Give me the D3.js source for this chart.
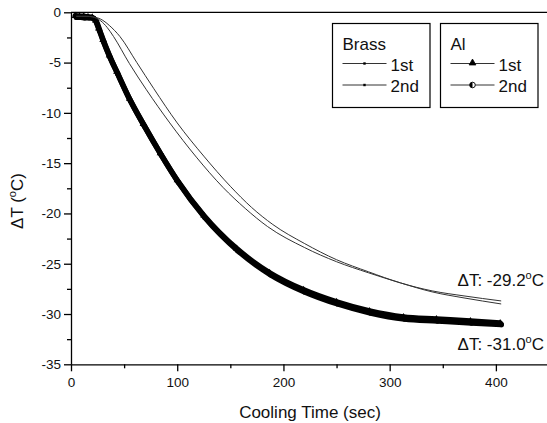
<!DOCTYPE html>
<html>
<head>
<meta charset="utf-8">
<script src="https://d3js.org/d3.v7.min.js"></script>
<style>
  html, body { margin: 0; padding: 0; background: #fff; }
  svg { display: block; font-family: "Liberation Sans", Arial, sans-serif; }
</style>
</head>
<body>
<svg id="chart" width="547" height="423"></svg>
<script>
// ---- Data ----
const brass1Time = [5, 10, 15, 20, 25, 30, 36, 46, 62, 78, 100, 125, 150, 170, 190, 220, 250, 280, 310, 340, 370, 405];
const brass1DT   = [-0.4, -0.4, -0.4, -0.45, -0.55, -0.8, -1.3, -2.4, -5.0, -7.6, -11.0, -14.3, -17.3, -19.4, -21.1, -23.0, -24.6, -25.8, -26.9, -27.7, -28.2, -28.7];

const brass2Time = [5, 10, 15, 20, 24, 28, 34, 40, 55, 71, 93, 118, 143, 164, 185, 220, 250, 280, 310, 340, 370, 405];
const brass2DT   = [-0.4, -0.4, -0.4, -0.45, -0.6, -0.85, -1.5, -2.4, -5.1, -7.7, -11.0, -14.4, -17.4, -19.5, -21.3, -23.4, -24.8, -25.9, -26.9, -27.8, -28.4, -29.0];

const al1Time = [4, 8, 12, 16, 20, 23, 26, 30, 36, 43, 55, 68, 84, 100, 125, 156, 187, 219, 250, 281, 313, 344, 376, 404];
const al1DT   = [-0.35, -0.4, -0.4, -0.45, -0.5, -0.8, -1.6, -2.75, -4.3, -5.9, -8.6, -11.1, -14.0, -16.7, -20.2, -23.5, -25.9, -27.6, -28.8, -29.7, -30.3, -30.5, -30.7, -30.9];

const al2Time = [5, 9, 13, 17, 21, 24, 27, 31, 37, 44, 56, 69, 85, 101, 126, 157, 188, 220, 251, 282, 314, 345, 377, 405];
const al2DT   = [-0.5, -0.5, -0.55, -0.55, -0.6, -0.95, -1.8, -2.95, -4.5, -6.1, -8.8, -11.3, -14.2, -16.9, -20.4, -23.7, -26.1, -27.8, -29.0, -29.9, -30.5, -30.7, -30.9, -31.05];

const xMajorTicks = [0, 100, 200, 300, 400];
const xMinorTicks = [50, 150, 250, 350];
const yMajorTicks = [-35, -30, -25, -20, -15, -10, -5, 0];
const yMinorTicks = [-32.5, -27.5, -22.5, -17.5, -12.5, -7.5, -2.5];

const xTitle = "Cooling Time (sec)";
const annotations = [
  { label: "ΔT: -29.2", value: -29.2 },
  { label: "ΔT: -31.0", value: -31.0 }
];

// ---- Layout ----
const W = 547, H = 423;
const mLeft = 71, mRight = 549, mTop = 12.3, mBottom = 364.3;
const font = '"Liberation Sans", Arial, sans-serif';

const svg = d3.select("#chart");
const x = d3.scaleLinear().domain([0, 450]).range([mLeft, mRight]);
const y = d3.scaleLinear().domain([-35, 0]).range([mBottom, mTop]);

svg.append("defs").append("clipPath").attr("id", "plotclip")
  .append("rect").attr("x", mLeft).attr("y", mTop - 4).attr("width", mRight - mLeft).attr("height", mBottom - mTop + 4);

const plot = svg.append("g").attr("clip-path", "url(#plotclip)");

const zip = (t, v) => t.map((d, i) => ({ t: d, v: v[i] }));
const line = d3.line().x(d => x(d.t)).y(d => y(d.v)).curve(d3.curveMonotoneX);

// Al series: dense markers merge into a thick black band
[zip(al1Time, al1DT), zip(al2Time, al2DT)].forEach(data => {
  plot.append("path").datum(data).attr("d", line)
    .attr("fill", "none").attr("stroke", "#000").attr("stroke-width", 5.5)
    .attr("stroke-linejoin", "round").attr("stroke-linecap", "round");
});
// Al markers
const tri = d3.symbol().type(d3.symbolTriangle).size(22);
plot.selectAll(".al1m").data(zip(al1Time, al1DT)).join("path")
  .attr("d", tri).attr("transform", d => `translate(${x(d.t)},${y(d.v)})`)
  .attr("fill", "#000");
plot.selectAll(".al2m").data(zip(al2Time, al2DT)).join("circle")
  .attr("cx", d => x(d.t)).attr("cy", d => y(d.v)).attr("r", 2.6)
  .attr("fill", "#000");

// Brass series: thin lines
[zip(brass1Time, brass1DT), zip(brass2Time, brass2DT)].forEach(data => {
  plot.append("path").datum(data).attr("d", line)
    .attr("fill", "none").attr("stroke", "#333").attr("stroke-width", 1);
});

// ---- Axes ----
const axStyle = g => {
  g.selectAll(".domain").attr("stroke", "#000").attr("stroke-width", 1.3);
  g.selectAll(".tick line").attr("stroke", "#000").attr("stroke-width", 1.3);
  g.selectAll("text").attr("font-family", font).attr("font-size", 13.5).attr("fill", "#111");
};
const fmt = d => String(d);

svg.append("g").attr("transform", `translate(0,${mBottom})`)
  .call(d3.axisBottom(x).tickValues(xMajorTicks).tickSize(7).tickPadding(6).tickSizeOuter(0).tickFormat(fmt))
  .call(axStyle);
svg.append("g").attr("transform", `translate(0,${mBottom})`)
  .call(d3.axisBottom(x).tickValues(xMinorTicks).tickSize(4).tickSizeOuter(0).tickFormat(""))
  .call(axStyle).call(g => g.select(".domain").remove());

svg.append("g").attr("transform", `translate(${mLeft},0)`)
  .call(d3.axisLeft(y).tickValues(yMajorTicks).tickSize(7).tickPadding(3).tickSizeOuter(0).tickFormat(fmt))
  .call(axStyle);
svg.append("g").attr("transform", `translate(${mLeft},0)`)
  .call(d3.axisLeft(y).tickValues(yMinorTicks).tickSize(4).tickSizeOuter(0).tickFormat(""))
  .call(axStyle).call(g => g.select(".domain").remove());

// top frame line
svg.append("line").attr("x1", mLeft).attr("x2", W).attr("y1", mTop).attr("y2", mTop)
  .attr("stroke", "#000").attr("stroke-width", 1.3);

// ---- Titles ----
svg.append("text").attr("x", (mLeft + mRight) / 2).attr("y", 418)
  .attr("text-anchor", "middle").attr("font-size", 17).attr("fill", "#111").text(xTitle);

const yt = svg.append("text").attr("transform", "translate(23,201) rotate(-90)")
  .attr("text-anchor", "middle").attr("font-size", 17).attr("fill", "#111");
yt.append("tspan").text("ΔT (");
yt.append("tspan").attr("font-size", 11).attr("dy", -7).text("o");
yt.append("tspan").attr("dy", 7).text("C)");

// ---- Annotations ----
const annY = [286, 350];
annotations.forEach((a, i) => {
  const t = svg.append("text").attr("x", 544).attr("y", annY[i])
    .attr("text-anchor", "end").attr("font-size", 17).attr("fill", "#111");
  t.append("tspan").text(a.label);
  t.append("tspan").attr("font-size", 11).attr("dy", -7).text("o");
  t.append("tspan").attr("dy", 7).text("C");
});

// ---- Legends ----
const legends = [
  { title: "Brass", x: 332.5, items: ["1st", "2nd"], kind: "brass" },
  { title: "Al", x: 440.5, items: ["1st", "2nd"], kind: "al" }
];
legends.forEach(L => {
  const g = svg.append("g");
  g.append("rect").attr("x", L.x).attr("y", 23.5).attr("width", 97.5).attr("height", 84)
    .attr("fill", "#fff").attr("stroke", "#000").attr("stroke-width", 1.2);
  g.append("text").attr("x", L.x + 10).attr("y", 49.5).attr("font-size", 17).attr("fill", "#111").text(L.title);
  const rows = [63.5, 85];
  L.items.forEach((lab, i) => {
    const ly = rows[i];
    g.append("line").attr("x1", L.x + 10).attr("x2", L.x + 54).attr("y1", ly).attr("y2", ly)
      .attr("stroke", "#333").attr("stroke-width", 1);
    const cx = L.x + 32;
    if (L.kind === "brass") {
      g.append("rect").attr("x", cx - 1.2).attr("y", ly - 1.2).attr("width", 2.4).attr("height", 2.4).attr("fill", "#000");
    } else if (i === 0) {
      g.append("path").attr("d", d3.symbol().type(d3.symbolTriangle).size(20)())
        .attr("transform", `translate(${cx},${ly - 0.5})`).attr("fill", "#000").attr("stroke", "#000").attr("stroke-width", 0.8);
    } else {
      g.append("circle").attr("cx", cx).attr("cy", ly).attr("r", 2.8).attr("fill", "#fff").attr("stroke", "#000").attr("stroke-width", 0.9);
      g.append("path").attr("d", `M${cx},${ly - 2.8} A2.8,2.8 0 0 0 ${cx},${ly + 2.8} Z`).attr("fill", "#000");
    }
    g.append("text").attr("x", L.x + 58).attr("y", ly + 7).attr("font-size", 17).attr("fill", "#111").text(lab);
  });
});
</script>
</body>
</html>
